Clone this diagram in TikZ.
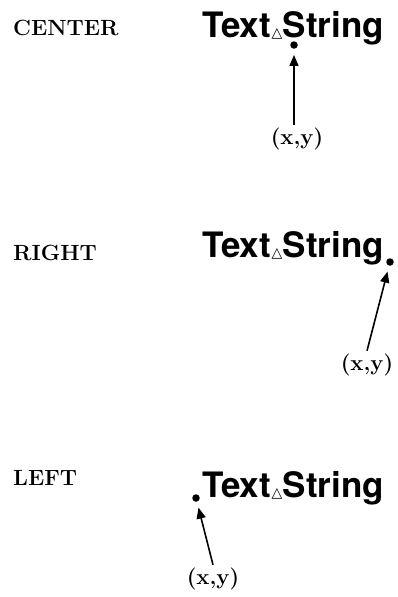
\documentclass[tikz,border=0pt]{standalone}
\usepackage{fontspec}
\usetikzlibrary{arrows.meta}
\newfontfamily\herosfont{TeX Gyre Heros}
\newfontfamily\dejavufont{DejaVu Sans}
\newcommand{\visiblespace}{\hspace{0.5pt}{\dejavufont\fontsize{14}{14}\selectfont △}\hspace{0.5pt}}
\begin{document}
\begin{tikzpicture}[x=1pt,y=-1pt,
  lab/.style={font=\bfseries\fontsize{22}{26}\selectfont, inner sep=0pt, anchor=west},
  ts/.style={font=\herosfont\bfseries\fontsize{35}{38}\selectfont, inner sep=0pt, anchor=base west},
  xy/.style={font=\bfseries\fontsize{22}{26}\selectfont, inner sep=3pt},
  pt/.style={circle, fill=black, minimum size=7.5pt, inner sep=0pt},
  arr/.style={-{Triangle[length=11pt,width=9pt]}, line width=1.6pt, shorten >=6pt}]
\useasboundingbox (0,0) rectangle (398,597);
% CENTER
\node[lab] (lc) at (13,28) {CENTER};
\node[ts] (tc) at (202,37) {Text\visiblespace String};
\node[pt] (dc) at (294,45) {};
\node[xy] (xc) at (297,139) {(x,y)};
\draw[arr] (dc |- xc.north) -- (dc);
% RIGHT
\node[lab] (lr) at (13,253) {RIGHT};
\node[ts] (tr) at (202,257) {Text\visiblespace String};
\node[pt] (dr) at (390,262) {};
\node[xy] (xr) at (367,365) {(x,y)};
\draw[arr] (xr.north) -- (dr);
% LEFT
\node[lab] (ll) at (13,478) {LEFT};
\node[ts] (tl) at (202,497) {Text\visiblespace String};
\node[pt] (dl) at (196,498) {};
\node[xy] (xl) at (213,579) {(x,y)};
\draw[arr] (xl.north) -- (dl);
\end{tikzpicture}
\end{document}
